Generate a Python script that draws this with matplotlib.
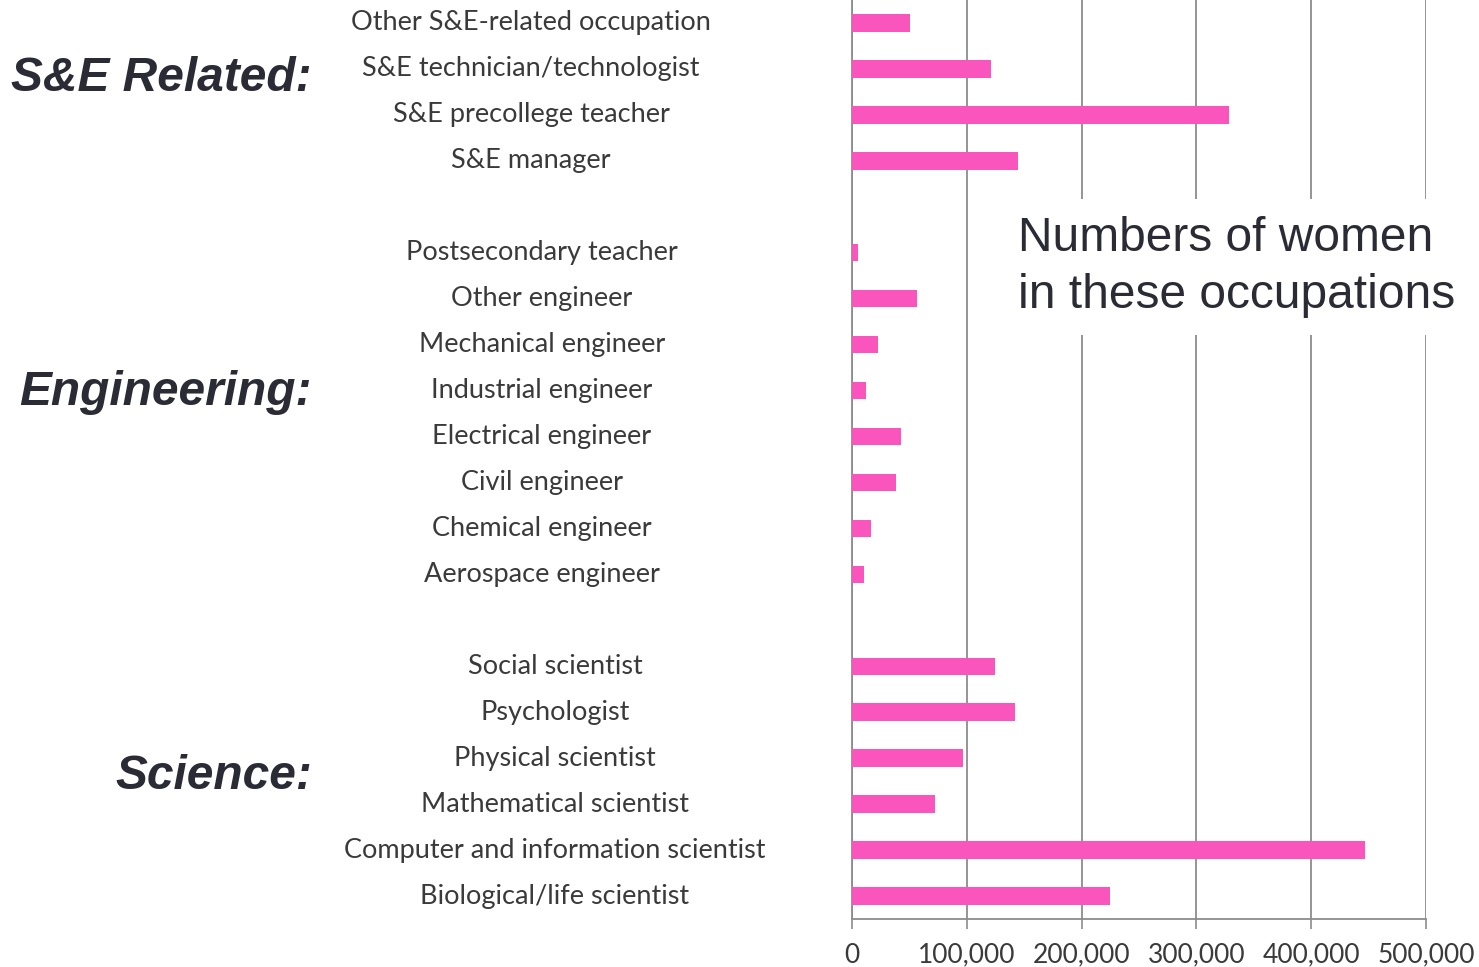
import matplotlib

matplotlib.use("Agg")

import matplotlib.pyplot as plt
from matplotlib.ticker import FuncFormatter
from matplotlib.transforms import blended_transform_factory

# Data, top to bottom ("" rows are blank spacers between groups)
occupations = [
    "Other S&E-related occupation",
    "S&E technician/technologist",
    "S&E precollege teacher",
    "S&E manager",
    "",
    "Postsecondary teacher",
    "Other engineer",
    "Mechanical engineer",
    "Industrial engineer",
    "Electrical engineer",
    "Civil engineer",
    "Chemical engineer",
    "Aerospace engineer",
    "",
    "Social scientist",
    "Psychologist",
    "Physical scientist",
    "Mathematical scientist",
    "Computer and information scientist",
    "Biological/life scientist",
]
women = [
    50500, 121000, 328000, 144500,
    0,
    5000, 56500, 22500, 12000, 42500, 38000, 16500, 10500,
    0,
    124500, 142000, 97000, 72000, 447000, 224500,
]
groups = ["S&E Related:", "Engineering:", "Science:"]
x_ticks = [0, 100000, 200000, 300000, 400000, 500000]

BAR = "#FA55BC"
GRID = "#8C8C8C"
INK = "#2B2B35"
LABEL = "#3A3A3A"

fig = plt.figure(figsize=(14.79, 9.67), dpi=100)
ax = fig.add_axes([852 / 1479, 1 - 919 / 967, 574 / 1479, 919 / 967])

ypos = list(range(len(occupations)))
ax.barh(ypos, women, height=0.38, color=BAR, zorder=3)
ax.set_ylim(len(occupations) - 0.5, -0.5)
ax.set_xlim(0, 500000)

ax.set_xticks(x_ticks)
ax.xaxis.set_major_formatter(FuncFormatter(lambda v, p: f"{int(v):,}"))
ax.tick_params(axis="x", direction="out", length=7, width=1.2, color=GRID,
               labelsize=19, labelcolor=LABEL, pad=10)
for t in ax.get_xticklabels():
    t.set_family("Lato")
ax.set_yticks([])
ax.grid(axis="x", color=GRID, linewidth=1.3, zorder=0)
for side in ["top", "right"]:
    ax.spines[side].set_visible(False)
for side in ["left", "bottom"]:
    ax.spines[side].set_color(GRID)
    ax.spines[side].set_linewidth(1.3)

# figure x in pixels, data y
trans = blended_transform_factory(fig.transFigure, ax.transData)

# Category labels, centred in a column left of the plot
group_center = [531, 542, 555]
g = 0
for i, name in enumerate(occupations):
    if name == "":
        g += 1
        continue
    ax.text(group_center[g] / 1479, i, name, transform=trans, ha="center", va="center",
            fontsize=19.5, color=LABEL, family="Lato", clip_on=False)

# Group headings
group_y = [1.2, 8.05, 16.4]
for name, y in zip(groups, group_y):
    ax.text(312 / 1479, y, name, transform=trans, ha="right", va="center", fontsize=34.5,
            fontweight="bold", style="italic", color=INK, family="Liberation Sans", clip_on=False)

# Annotation box over the gridlines
fig.text(1018 / 1479, 1 - 267 / 967, "Numbers of women\nin these occupations", ha="left", va="center",
         fontsize=34.5, color=INK, family="Liberation Sans", linespacing=1.33,
         bbox=dict(facecolor="white", edgecolor="none", pad=12))

fig.savefig("out.png", dpi=100, facecolor="white")
